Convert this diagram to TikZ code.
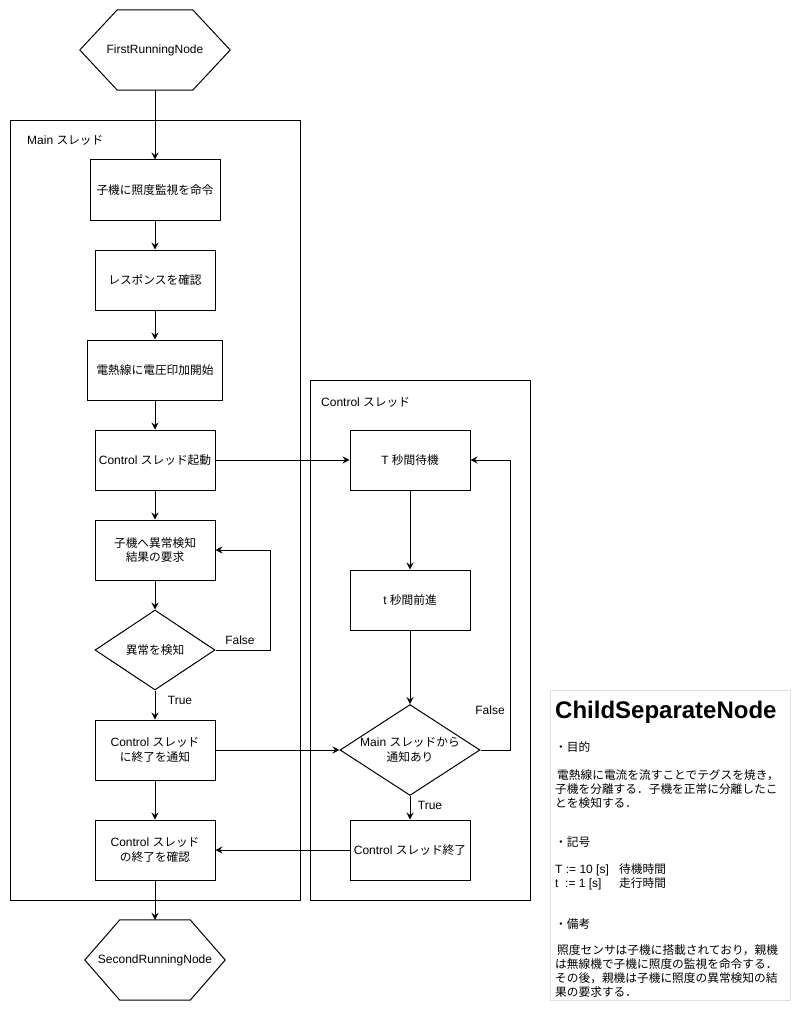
\documentclass[tikz,border=0pt]{standalone}
\usepackage{fontspec}
\setmainfont{Liberation Sans}
\newfontfamily\jp[Scale=0.975]{Noto Sans CJK JP}
\usetikzlibrary{shapes.geometric,arrows.meta}

% Switch to the Japanese family automatically for CJK characters
\XeTeXinterchartokenstate=1
\newXeTeXintercharclass\jpclass
\newcount\jpcode
\def\setjprange#1#2{\jpcode=#1\relax
  \loop\XeTeXcharclass\jpcode=\jpclass\advance\jpcode by 1\relax
  \ifnum\jpcode<#2\repeat}
\setjprange{"3000}{"3100}
\setjprange{"4E00}{"A000}
\setjprange{"FF00}{"FFF0}
\XeTeXinterchartoks 0 \jpclass = {\begingroup\jp}
\XeTeXinterchartoks 4095 \jpclass = {\begingroup\jp}
\XeTeXinterchartoks \jpclass 0 = {\endgroup}
\XeTeXinterchartoks \jpclass 4095 = {\endgroup}

\begin{document}
\begin{tikzpicture}[x=1pt,y=-1pt,
  every node/.style={font=\fontsize{12}{14.4}\selectfont, inner sep=0pt},
  stepbox/.style={draw, line width=1pt, align=center, minimum height=60pt, minimum width=120pt},
  decision/.style={draw, diamond, line width=1pt, align=center, aspect=1.5},
  terminal/.style={align=center, minimum height=80pt},
  hexline/.style={line width=1pt},
  frame/.style={draw, line width=1pt, anchor=north west},
  note/.style={draw=black!12, line width=1pt, anchor=north west},
  flow/.style={line width=1pt, -{Stealth[length=7pt,width=7pt,inset=2.5pt]}},
  tag/.style={anchor=base west},
  notetext/.style={anchor=base west, align=left, font=\fontsize{12}{14}\selectfont}
]
\fill[white] (0,0) rectangle (801,1011);
\useasboundingbox (0,0) rectangle (801,1011);

% thread frames
\node[frame, minimum width=290, minimum height=780] (mainframe) at (10,120) {};
\node[tag] (mainlabel) at (27,145) {Main スレッド};
\node[frame, minimum width=220, minimum height=520] (ctrlframe) at (310,380) {};
\node[tag] (ctrllabel) at (321,406) {Control スレッド};

% start / end terminals
\node[terminal, minimum width=150] (first) at (155,50) {FirstRunningNode};
\draw[hexline] (first.west) -- ([xshift=37.5pt]first.north west) -- ([xshift=-37.5pt]first.north east)
  -- (first.east) -- ([xshift=-37.5pt]first.south east) -- ([xshift=37.5pt]first.south west) -- cycle;
\node[terminal, minimum width=140] (second) at (155,960) {SecondRunningNode};
\draw[hexline] (second.west) -- ([xshift=35pt]second.north west) -- ([xshift=-35pt]second.north east)
  -- (second.east) -- ([xshift=-35pt]second.south east) -- ([xshift=35pt]second.south west) -- cycle;

% main thread
\node[stepbox, minimum width=130] (cmd) at (155,190) {子機に照度監視を命令};
\node[stepbox] (resp) at (155,280) {レスポンスを確認};
\node[stepbox, minimum width=135] (heat) at (155,370) {電熱線に電圧印加開始};
\node[stepbox] (launch) at (155,460) {Control スレッド起動};
\node[stepbox] (req) at (155,550) {子機へ異常検知\\結果の要求};
\node[decision, minimum width=120, minimum height=80] (detect) at (155,650) {異常を検知};
\node[stepbox] (notify) at (155,750) {Control スレッド\\に終了を通知};
\node[stepbox] (confirm) at (155,850) {Control スレッド\\の終了を確認};

% control thread
\node[stepbox] (wait) at (410,460) {T 秒間待機};
\node[stepbox] (move) at (410,600) {t 秒間前進};
\node[decision, minimum width=140, minimum height=90] (check) at (410,750) {Main スレッドから\\通知あり};
\node[stepbox] (stop) at (410,850) {Control スレッド終了};

% connectors
\draw[flow] (first) -- (cmd);
\draw[flow] (cmd) -- (resp);
\draw[flow] (resp) -- (heat);
\draw[flow] (heat) -- (launch);
\draw[flow] (launch) -- (req);
\draw[flow] (req) -- (detect);
\draw[flow] (detect) -- (notify);
\draw[flow] (detect.east) -- ++(55,0) |- (req.east);
\draw[flow] (notify) -- (confirm);
\draw[flow] (confirm) -- (second);
\draw[flow] (launch) -- (wait);
\draw[flow] (wait) -- (move);
\draw[flow] (move) -- (check);
\draw[flow] (check) -- (stop);
\draw[flow] (check.east) -- ++(30,0) |- (wait.east);
\draw[flow] (notify.east) -- (check.west);
\draw[flow] (stop.west) -- (confirm.east);

% branch labels
\node (f1) at (240,640) {False};
\node (t1) at (180,700) {True};
\node (f2) at (490,710) {False};
\node (t2) at (430,805) {True};

% description note (multi-line blocks are placed by the baseline of their last line)
\node[note, minimum width=240, minimum height=310] (desc) at (550,690) {};
\node[anchor=base west, font=\bfseries\fontsize{24}{28}\selectfont] (desctitle) at (555,718) {ChildSeparateNode};
\node[notetext] (purposehead) at (555,751) {・目的};
\node[notetext] (purpose) at (555,807) {\hspace*{2pt}電熱線に電流を流すことでテグスを焼き，\\子機を分離する．子機を正常に分離したこ\\とを検知する．};
\node[notetext] (symhead) at (555,846) {・記号};
\node[notetext] (syms) at (555,887) {\makebox[64pt][l]{T := 10 [s]}待機時間\\\makebox[64pt][l]{\makebox[10pt][l]{t}:= 1 [s]}走行時間};
\node[notetext] (notehead) at (555,928) {・備考};
\node[notetext] (remark) at (555,996) {\hspace*{2pt}照度センサは子機に搭載されており，親機\\は無線機で子機に照度の監視を命令する．\\その後，親機は子機に照度の異常検知の結\\果の要求する．};
\end{tikzpicture}
\end{document}
